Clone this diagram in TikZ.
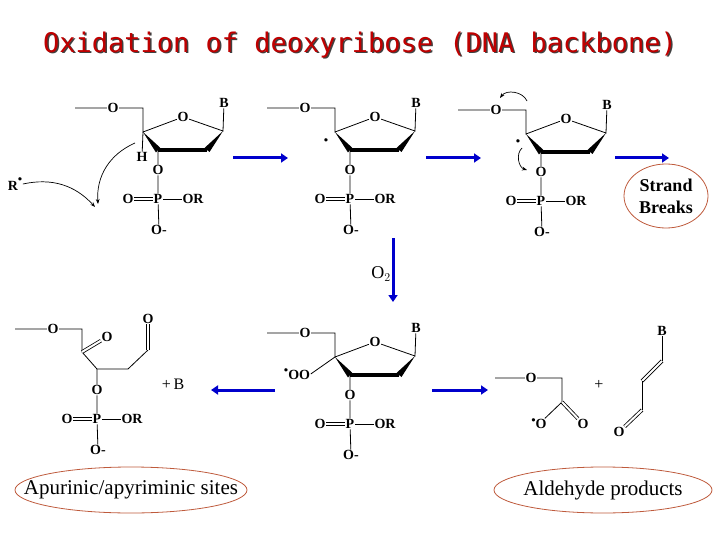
\documentclass[tikz,border=0pt]{standalone}
\usepackage{fontspec}
\setmainfont{Liberation Serif}
\newfontfamily\titlefont{DejaVu Sans Mono}
\usetikzlibrary{arrows.meta,shapes.geometric,calc}
\newcommand{\rdot}{\raisebox{0.3ex}{\scalebox{0.6}{$\bullet$}}}
\definecolor{ovalc}{RGB}{190,90,60}
\tikzset{
  atm/.style={font=\bfseries\fontsize{14}{14}\selectfont, inner sep=0.5pt},
  bond/.style={line width=0.8pt},
  blue arrow/.style={draw=blue!80!black, line width=3pt, -{Triangle[length=7pt,width=9pt]}},
  oval/.style={draw=ovalc, ellipse, line width=0.8pt, inner sep=0pt},
  curvy/.style={line width=0.7pt, -{Stealth[length=5pt]}},
  lbl/.style={font=\fontsize{21}{21}\selectfont},
}
\newcommand{\mysugar}[3]{%
\begin{scope}[shift={(#1,#2)}]
  \node[atm] (#3o5) at (113,108) {O};
  \node[atm] (#3ro) at (183,117) {O};
  \node[atm] (#3b) at (224,103) {B};
  \coordinate (#3c4) at (143,132);
  \coordinate (#3c3) at (158,150);
  \coordinate (#3c2) at (207,150);
  \coordinate (#3c1) at (223,131);
  \coordinate (#3l) at (75,108);
  \coordinate (#3c5) at (143,108);
  \node[atm] (#3o3) at (158,170) {O};
  \node[atm] (#3p) at (158,199) {P};
  \node[atm] (#3od) at (128,199) {O};
  \node[atm] (#3or) at (193,199) {OR};
  \node[atm] (#3om) at (159,230) {O-};
  \draw[bond] (#3l) -- (#3o5) -- (#3c5) -- (#3c4) -- (#3ro) -- (#3c1) -- (#3b);
  \fill (#3c4) -- ($(#3c3)+(2,-2.5)$) -- ($(#3c3)+(-2,2.5)$) -- cycle;
  \draw[line width=4pt] (#3c3) -- (#3c2);
  \fill (#3c1) -- ($(#3c2)+(-2.5,-2)$) -- ($(#3c2)+(2.5,2)$) -- cycle;
  \draw[bond] (#3c3) -- (#3o3) -- (#3p) -- (#3om);
  \draw[bond] (#3p) -- (#3or);
  \draw[bond,double,double distance=2pt] (#3od) -- (#3p);
\end{scope}}
\begin{document}
\begin{tikzpicture}[x=1pt,y=-1pt]
\useasboundingbox (0,0) rectangle (720,540);
\node[font=\titlefont\fontsize{27}{27}\selectfont, text=black!75] (tsh) at (361.5,46.5) {Oxidation of deoxyribose (DNA backbone)};
\node[font=\titlefont\fontsize{27}{27}\selectfont, text=red!75!black] (title) at (360,45) {Oxidation of deoxyribose (DNA backbone)};
\mysugar{0}{0}{a}
\node[atm] (ah) at (142,157) {H};
\draw[bond] (ac4) -- (ah);
\node[atm] (r) at (15,184) {R\raisebox{1ex}{\rdot}};
\coordinate (r1) at (95,207);
\coordinate (h1) at (135,143);
\coordinate (h2) at (98,204);
\draw[curvy] (r.east) to[bend left=30] (r1);
\draw[curvy] (h1) to[bend right=35] (h2);
\mysugar{192}{0}{b}
\node[atm] (bdot) at (326,142) {\rdot};
\mysugar{383}{2}{c}
\node[atm] (cdot) at (518,143) {\rdot};
\coordinate (k1) at (527,101);
\coordinate (k2) at (500,98);
\draw[curvy] (k1) to[bend right=60] (k2);
\coordinate (k3) at (522,148);
\coordinate (k4) at (527,170);
\draw[curvy] (k3) to[bend right=60] (k4);
\node[oval, minimum width=84pt, minimum height=64pt] (sbo) at (666,196) {};
\node[font=\bfseries\fontsize{18}{22}\selectfont, align=center] (sb) at (666,196) {Strand\\Breaks};
\coordinate (t1) at (233,158); \coordinate (t2) at (288,158);
\coordinate (t3) at (426,158); \coordinate (t4) at (481,158);
\coordinate (t5) at (615,158); \coordinate (t6) at (669,158);
\draw[blue arrow] (t1) -- (t2);
\draw[blue arrow] (t3) -- (t4);
\draw[blue arrow] (t5) -- (t6);
\coordinate (v1) at (393,238); \coordinate (v2) at (393,302);
\draw[blue arrow] (v1) -- (v2);
\node[font=\fontsize{18}{18}\selectfont] (o2) at (381,274) {O$_2$};
\mysugar{192}{225}{d}
\node[atm] (doo) at (297,374) {\raisebox{0.8ex}{\rdot}OO};
\draw[bond] (dc4) -- (doo.east);
\coordinate (u1) at (275,390); \coordinate (u2) at (211,390);
\coordinate (u3) at (432,390); \coordinate (u4) at (488,390);
\draw[blue arrow] (u1) -- (u2);
\draw[blue arrow] (u3) -- (u4);
\node[atm] (eo) at (53,329) {O};
\coordinate (el) at (15,329);
\coordinate (ec5) at (82,329);
\coordinate (eck) at (82,352);
\node[atm] (eok) at (107,337) {O};
\coordinate (ec3) at (97,369);
\coordinate (ec2) at (128,369);
\coordinate (ec1) at (148,350);
\node[atm] (eoa) at (148,319) {O};
\node[atm] (eo3) at (97,390) {O};
\node[atm] (ep) at (97,419) {P};
\node[atm] (eod) at (67,419) {O};
\node[atm] (eor) at (132,419) {OR};
\node[atm] (eom) at (98,450) {O-};
\draw[bond] (el) -- (eo) -- (ec5) -- (eck) -- (ec3) -- (ec2) -- (ec1);
\draw[bond,double,double distance=2pt] (eck) -- (eok);
\draw[bond,double,double distance=2pt] (ec1) -- (eoa);
\draw[bond] (ec3) -- (eo3) -- (ep) -- (eom);
\draw[bond] (ep) -- (eor);
\draw[bond,double,double distance=2pt] (eod) -- (ep);
\node[font=\fontsize{16}{16}\selectfont] (plusb) at (173,384) {+\,B};
\node[atm] (fo) at (531,378) {O};
\coordinate (fl) at (495,378);
\coordinate (fc5) at (562,378);
\coordinate (fc) at (562,402);
\node[atm] (fod) at (539,424) {\raisebox{0.6ex}{\rdot}O};
\node[atm] (foo) at (583,424) {O};
\draw[bond] (fl) -- (fo) -- (fc5) -- (fc) -- (fod);
\draw[bond,double,double distance=2pt] (fc) -- (foo);
\node[font=\fontsize{16}{16}\selectfont] (plus) at (599,385) {+};
\node[atm] (gb) at (662,331) {B};
\coordinate (g1) at (662,361);
\coordinate (g2) at (642,381);
\coordinate (g3) at (642,410);
\node[atm] (go) at (619,432) {O};
\draw[bond] (gb) -- (g1);
\draw[bond,double,double distance=2pt] (g1) -- (g2);
\draw[bond] (g2) -- (g3);
\draw[bond,double,double distance=2pt] (g3) -- (go);
\node[oval, minimum width=232pt, minimum height=46pt] (apo) at (131,490) {};
\node[lbl] (ap) at (131,490) {Apurinic/apyriminic sites};
\node[oval, minimum width=218pt, minimum height=46pt] (alo) at (603,490) {};
\node[lbl] (al) at (603,490) {Aldehyde products};
\end{tikzpicture}
\end{document}
